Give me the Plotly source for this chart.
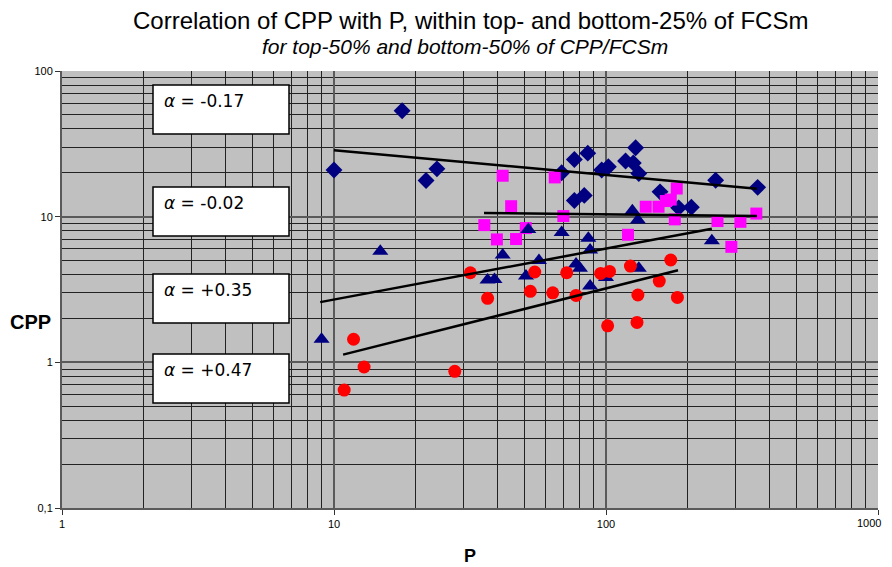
import plotly.graph_objects as go

# ---- data ----
diamond_p = [10, 17.8, 21.8, 23.9, 68.7, 76.5, 85.7, 76.5, 83.2, 96.4, 102, 128.5, 118, 126, 132, 253, 361, 158, 185, 206]
diamond_cpp = [20.9, 53.3, 17.7, 21.3, 20.0, 24.7, 27.3, 12.9, 14.0, 20.9, 22.0, 29.7, 24.1, 23.4, 19.8, 17.8, 15.9, 14.8, 11.5, 11.6]

square_p = [41.7, 64.8, 44.8, 69.7, 35.7, 39.7, 46.7, 50.7, 182, 140, 156, 166, 173, 179, 257, 312, 357, 120.5, 289]
square_cpp = [19.1, 18.6, 11.8, 10.1, 8.75, 6.98, 7.02, 8.35, 15.6, 11.7, 11.7, 12.8, 13.1, 9.58, 9.33, 9.22, 10.5, 7.51, 6.21]

triangle_p = [9, 14.8, 36.7, 38.9, 41.7, 50.8, 51.8, 56.7, 68.7, 77.6, 80.2, 86.1, 87.4, 87.4, 100, 125, 131, 132, 245]
triangle_cpp = [1.44, 5.79, 3.67, 3.70, 5.45, 3.91, 8.18, 5.0, 7.80, 4.73, 4.42, 7.10, 5.90, 3.34, 3.83, 11.0, 9.48, 4.42, 6.83]

circle_p = [31.7, 36.7, 54.7, 52.7, 63.7, 71.7, 77.6, 95.6, 103, 123, 173, 157, 131, 183, 101.4, 130, 11.8, 12.9, 10.9, 27.8]
circle_cpp = [4.12, 2.75, 4.17, 3.07, 3.0, 4.12, 2.88, 4.08, 4.21, 4.58, 5.04, 3.61, 2.90, 2.79, 1.78, 1.88, 1.44, 0.929, 0.645, 0.867]

# power-law trend lines: CPP = c * P^alpha
trend_alpha = [-0.17, -0.02, 0.35, 0.47]
trend_labels = ["-0.17", "-0.02", "+0.35", "+0.47"]
trend_p_from = [10, 35.6, 8.9, 10.8]
trend_p_to = [359, 359, 245, 184]
trend_cpp_from = [28.6, 10.6, 2.59, 1.13]

y_tickvals = [0.1, 1, 10, 100]
y_ticktext = ["0,1", "1", "10", "100"]
x_tickvals = [1, 10, 100, 1000]
x_ticktext = ["1", "10", "100", "1000"]

NAVY = "#000080"
fig = go.Figure()

fig.add_trace(go.Scatter(x=diamond_p, y=diamond_cpp, mode="markers",
                         marker=dict(symbol="diamond", size=13, color=NAVY)))
fig.add_trace(go.Scatter(x=square_p, y=square_cpp, mode="markers",
                         marker=dict(symbol="square", size=12, color="#FF00FF")))
fig.add_trace(go.Scatter(x=triangle_p, y=triangle_cpp, mode="markers",
                         marker=dict(symbol="triangle-up", size=14, color=NAVY)))
fig.add_trace(go.Scatter(x=circle_p, y=circle_cpp, mode="markers",
                         marker=dict(symbol="circle", size=13, color="#FF0000")))

for a, p0, p1, c0 in zip(trend_alpha, trend_p_from, trend_p_to, trend_cpp_from):
    c1 = c0 * (p1 / p0) ** a
    fig.add_trace(go.Scatter(x=[p0, p1], y=[c0, c1], mode="lines",
                             line=dict(color="black", width=2.5)))

# page has an 8px body margin: figure drawn at (8, 8)
OFF = 8
W, H = 892 - OFF, 567 - OFF
L, R, T, B = 62 - OFF, 14, 71 - OFF, 59
PW, PH = W - L - R, H - T - B
def px(x):  # page pixel -> paper
    return (x - OFF - L) / PW
def py(y):
    return (H - B - (y - OFF)) / PH

box_tops = [85, 187, 274, 354]
text_y = [101, 203, 290, 370]
for top, ty, lab in zip(box_tops, text_y, trend_labels):
    fig.add_shape(type="rect", xref="paper", yref="paper",
                  x0=px(153), x1=px(289), y0=py(top), y1=py(top + 49),
                  fillcolor="white", line=dict(color="black", width=1.5), layer="above")
    fig.add_annotation(xref="paper", yref="paper", x=px(162), y=py(ty),
                       xanchor="left", yanchor="middle", showarrow=False,
                       text="<i>α</i> = " + lab,
                       font=dict(family="DejaVu Sans", size=17, color="black"))

fig.add_annotation(xref="paper", yref="paper", x=px(470), y=py(20), xanchor="center", yanchor="middle",
                   showarrow=False, text="Correlation of CPP with P, within top- and bottom-25% of FCSm",
                   font=dict(family="Liberation Sans, Arial", size=24, color="black"))
fig.add_annotation(xref="paper", yref="paper", x=px(465), y=py(46), xanchor="center", yanchor="middle",
                   showarrow=False, text="<i>for top-50% and bottom-50% of CPP/FCSm</i>",
                   font=dict(family="Liberation Sans, Arial", size=21, color="black"))
fig.add_annotation(xref="paper", yref="paper", x=px(30), y=py(322), xanchor="center", yanchor="middle",
                   showarrow=False, text="<b>CPP</b>",
                   font=dict(family="Liberation Sans, Arial", size=20, color="black"))
fig.add_annotation(xref="paper", yref="paper", x=px(470), y=py(556), xanchor="center", yanchor="middle",
                   showarrow=False, text="<b>P</b>",
                   font=dict(family="Liberation Sans, Arial", size=18, color="black"))

# the last x tick label would run past the visible page edge; draw it right-aligned instead
tick_font = dict(family="Liberation Sans, Arial", size=11, color="black")
x_ticktext_axis = x_ticktext[:-1] + [""]
fig.add_annotation(xref="paper", yref="paper", x=px(883), y=py(523), xanchor="right", yanchor="middle",
                   showarrow=False, text=x_ticktext[-1], font=tick_font)

axis_common = dict(
    type="log", showgrid=True, gridcolor="#5a5a5a", gridwidth=2,
    showline=True, linecolor="#5a5a5a", linewidth=2,
    ticks="outside", ticklen=5, tickcolor="#333", tickwidth=1,
    zeroline=False, automargin=False,
    tickfont=tick_font,
    minor=dict(dtick="D1", showgrid=True, gridcolor="#222222", gridwidth=1, ticks=""),
)
fig.update_xaxes(range=[0, 3], tickvals=x_tickvals, ticktext=x_ticktext_axis, **axis_common)
fig.update_yaxes(range=[-1, 2], tickvals=y_tickvals, ticktext=y_ticktext, **axis_common)

fig.update_layout(
    width=W, height=H, showlegend=False,
    margin=dict(l=L, r=R, t=T, b=B, autoexpand=False),
    plot_bgcolor="#C0C0C0", paper_bgcolor="white",
)
fig.write_html("out.html")
